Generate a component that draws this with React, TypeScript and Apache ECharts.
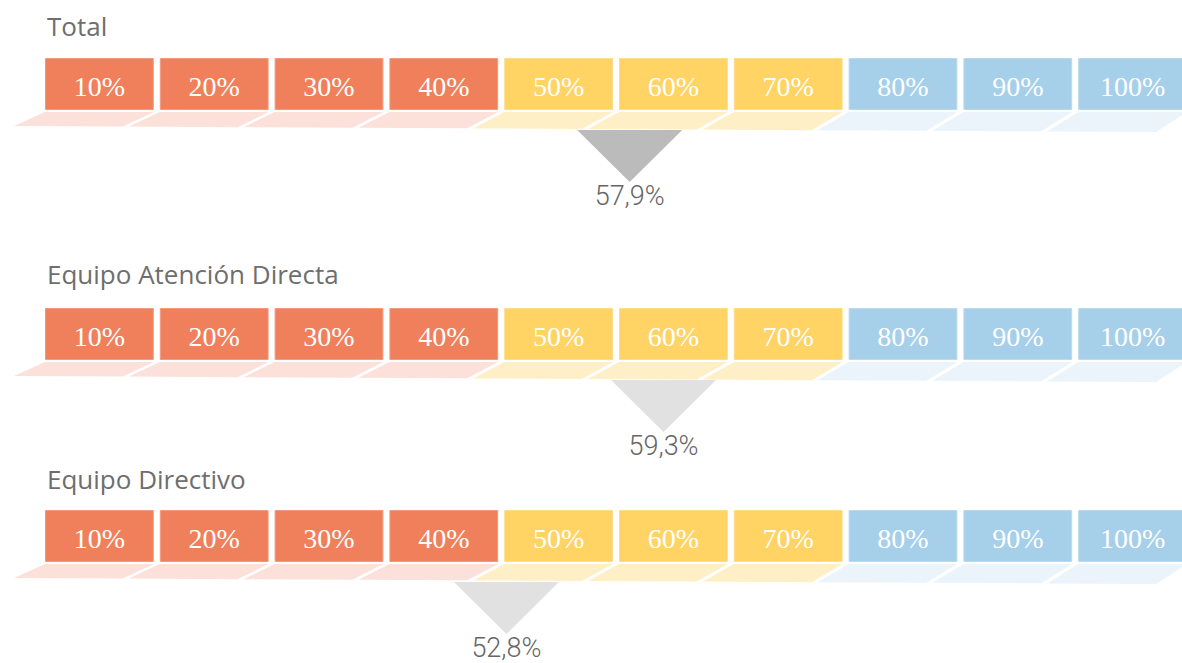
import React, { useEffect, useRef } from "react";
import * as echarts from "echarts";

// ---- data ----
const rowTitles = ["Total", "Equipo Atención Directa", "Equipo Directivo"];
const rowValues = [57.9, 59.3, 52.8];
const blockSteps = [10, 20, 30, 40, 50, 60, 70, 80, 90, 100];
const blockLabels = ["10%", "20%", "30%", "40%", "50%", "60%", "70%", "80%", "90%", "100%"];

// ---- layout / style ----
const W = 1182;
const H = 663;
const rowTops = [58, 308, 510];
const titleYs = [26, 274, 479];
const BLOCK_H = 52;
const GRID_LEFT = 45;
const GAP = 6;
const SHEAR = 31;
const pointerColors = ["#bbbbbb", "#e1e1e1", "#e1e1e1"];
// block axis: 100 units = 1148 px, grid runs to the right edge of the page
const BLOCK_MAX = ((W - GRID_LEFT) / 1148) * 100;
// hidden scale of the pointer axis (px = 24.17 * v - 769.8)
const POINTER_MIN = 33.71;
const POINTER_MAX = 80.75;

const bandOf = (v: number) => {
  if (v <= 40) return { fill: "#f0805c", edge: "#f39a7c", shadow: "#fbe1d9" };
  if (v <= 70) return { fill: "#ffd364", edge: "#ffdd85", shadow: "#ffefc6" };
  return { fill: "#a6cfea", edge: "#b9daef", shadow: "#ebf4fa" };
};

const fmt = (v: number) => v.toFixed(1).replace(".", ",") + "%";

export default function App() {
  const ref = useRef<HTMLDivElement>(null);

  useEffect(() => {
    document.body.style.margin = "0";
    if (!ref.current) return;
    const chart = echarts.init(ref.current, undefined, { renderer: "svg" });

    const grids: any[] = [];
    const xAxes: any[] = [];
    const yAxes: any[] = [];
    const series: any[] = [];

    rowTitles.forEach((_, r) => {
      grids.push({ left: GRID_LEFT, right: 0, top: rowTops[r], height: BLOCK_H });
      xAxes.push({ type: "value", gridIndex: r, min: 0, max: BLOCK_MAX, show: false });
      xAxes.push({ type: "value", gridIndex: r, min: POINTER_MIN, max: POINTER_MAX, show: false });
      yAxes.push({ type: "value", gridIndex: r, min: 0, max: 1, show: false });

      series.push({
        type: "custom",
        xAxisIndex: 2 * r,
        yAxisIndex: r,
        silent: true,
        clip: false,
        data: blockSteps.map((v) => [v, 0]),
        encode: { x: 0, y: 1 },
        renderItem: (params: any, api: any) => {
          const v = api.value(0);
          const tl = api.coord([v - 10, 1]);
          const br = api.coord([v, 0]);
          const o = api.coord([0, 0]);
          const e = api.coord([100, 0]);
          const span = e[0] - o[0];
          const x0 = tl[0];
          const x1 = br[0] - GAP;
          const y0 = tl[1];
          const y1 = br[1];
          const depth = (x: number) => 16 + (6 * (x - o[0])) / span;
          const b = bandOf(v);
          return {
            type: "group",
            children: [
              {
                type: "polygon",
                shape: {
                  points: [
                    [x0, y1 + 2],
                    [x1, y1 + 2],
                    [x1 - SHEAR, y1 + depth(x1)],
                    [x0 - SHEAR, y1 + depth(x0)],
                  ],
                },
                style: { fill: b.shadow },
              },
              {
                type: "rect",
                shape: { x: x0 + 0.5, y: y0 + 0.5, width: x1 - x0 - 1, height: y1 - y0 - 1 },
                style: { fill: b.fill, stroke: b.edge, lineWidth: 1 },
              },
              {
                type: "text",
                x: (x0 + x1) / 2,
                y: (y0 + y1) / 2 + 2,
                style: {
                  text: blockLabels[params.dataIndex],
                  fill: "#ffffff",
                  fontFamily: "Liberation Serif",
                  fontSize: 28,
                  align: "center",
                  verticalAlign: "middle",
                },
              },
            ],
          };
        },
      });

      series.push({
        type: "custom",
        xAxisIndex: 2 * r + 1,
        yAxisIndex: r,
        silent: true,
        clip: false,
        data: [[rowValues[r], 0]],
        encode: { x: 0, y: 1 },
        renderItem: (_p: any, api: any) => {
          const v = api.value(0);
          const p = api.coord([v, 0]);
          const x = p[0];
          const yb = p[1];
          return {
            type: "group",
            children: [
              {
                type: "polygon",
                shape: {
                  points: [
                    [x - 52.5, yb + 20],
                    [x + 52.5, yb + 20],
                    [x, yb + 72],
                  ],
                },
                style: { fill: pointerColors[r] },
              },
              {
                type: "text",
                x: x,
                y: yb + 86,
                style: {
                  text: fmt(v),
                  fill: "#666666",
                  fontFamily: "Roboto",
                  fontWeight: 300,
                  fontSize: 27,
                  lineHeight: 27,
                  align: "center",
                  verticalAlign: "middle",
                },
              },
            ],
          };
        },
      });
    });

    chart.setOption({
      animation: false,
      backgroundColor: "#ffffff",
      grid: grids,
      xAxis: xAxes,
      yAxis: yAxes,
      series,
      graphic: rowTitles.map((t, r) => ({
        type: "text",
        x: 47,
        y: titleYs[r],
        style: {
          text: t,
          fill: "#6e6e6e",
          fontFamily: "Open Sans",
          fontSize: 26,
          verticalAlign: "middle",
        },
      })),
    });

    return () => chart.dispose();
  }, []);

  return <div ref={ref} style={{ width: W, height: H }} />;
}
